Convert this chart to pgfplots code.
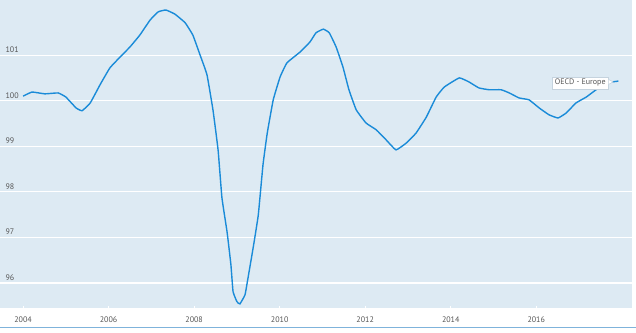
\documentclass[border=0pt]{standalone}
\usepackage{pgfplots}
\pgfplotsset{compat=1.18}
\usepackage{fontspec}
\setmainfont{PT Sans}
\definecolor{bgplot}{HTML}{DDEAF3}
\definecolor{serie}{HTML}{1A8BD8}
\definecolor{lbl}{HTML}{555555}
\definecolor{bline}{HTML}{7FB3DB}
\definecolor{boxborder}{HTML}{C5D3DE}
\begin{document}
\begin{tikzpicture}[x=1pt,y=1pt]
\fill[white] (0,0) rectangle (636,332);
\useasboundingbox (0,0) rectangle (636,332);
\fill[bgplot] (0,24) rectangle (632,332);
\draw[bline, line width=1.5pt] (0,4.7) -- (636,4.7);
\begin{axis}[
  at={(0pt,24pt)}, anchor=south west,
  width=632pt, height=308pt, scale only axis,
  xmin=2003.46, xmax=2018.24, ymin=95.45, ymax=102.21,
  axis line style={draw=none},
  xtick={2004,2006,...,2016}, ytick={96,97,98,99,100,101},
  xtick pos=bottom, tick align=inside, major tick length=2.5pt,
  xtick style={white, line width=0.8pt},
  ytick style={draw=none},
  ymajorgrids, grid style={white, line width=1.2pt},
  /pgf/number format/1000 sep={},
  /pgf/number format/assume math mode=true,
  ticklabel style={font=\fontsize{8}{9}\selectfont, text=lbl},
  yticklabel style={anchor=south west, xshift=2pt, yshift=-1pt},
  xticklabel style={yshift=-5pt},
  clip=true,
]
\addplot[serie, line width=1.4pt, smooth, tension=0.2] coordinates {
(2004.00,100.10) (2004.21,100.19) (2004.51,100.15) (2004.82,100.17) (2005.00,100.08)
(2005.24,99.84) (2005.38,99.78) (2005.57,99.95) (2005.80,100.35) (2006.03,100.72)
(2006.27,100.96) (2006.50,101.18) (2006.73,101.44) (2006.97,101.77) (2007.16,101.95)
(2007.34,101.99) (2007.55,101.90) (2007.79,101.71) (2007.97,101.44) (2008.14,101.00)
(2008.30,100.57) (2008.44,99.80) (2008.56,98.92) (2008.65,97.87) (2008.77,97.12)
(2008.86,96.40) (2008.91,95.81) (2009.00,95.59) (2009.07,95.54) (2009.19,95.74)
(2009.26,96.11) (2009.38,96.77) (2009.50,97.49) (2009.61,98.59) (2009.71,99.29)
(2009.85,100.02) (2010.01,100.52) (2010.17,100.83) (2010.48,101.07) (2010.71,101.29)
(2010.85,101.49) (2011.02,101.57) (2011.16,101.49) (2011.32,101.18) (2011.48,100.74)
(2011.62,100.24) (2011.79,99.80) (2012.02,99.51) (2012.26,99.36) (2012.49,99.14)
(2012.72,98.92) (2012.96,99.07) (2013.19,99.29) (2013.43,99.64) (2013.66,100.08)
(2013.85,100.30) (2014.20,100.50) (2014.43,100.41) (2014.66,100.28) (2014.90,100.24)
(2015.18,100.24) (2015.37,100.17) (2015.60,100.06) (2015.83,100.02) (2016.07,99.84)
(2016.30,99.69) (2016.51,99.62) (2016.70,99.73) (2016.93,99.95) (2017.17,100.08)
(2017.40,100.24) (2017.64,100.39) (2017.92,100.43)
};
\node[fill=white, draw=boxborder, line width=0.6pt, inner sep=0pt, minimum width=56pt, minimum height=12pt,
  font=\fontsize{8}{9}\selectfont, text=lbl] (lab) at (axis cs:2017.03,100.39) {OECD - Europe};
\fill[white] ([yshift=3.5pt]lab.east) -- ([xshift=4.5pt,yshift=1pt]lab.east) -- ([yshift=-1.5pt]lab.east) -- cycle;
\draw[boxborder, line width=0.6pt] ([yshift=3.5pt]lab.east) -- ([xshift=4.5pt,yshift=1pt]lab.east) -- ([yshift=-1.5pt]lab.east);
\end{axis}
\end{tikzpicture}
\end{document}
